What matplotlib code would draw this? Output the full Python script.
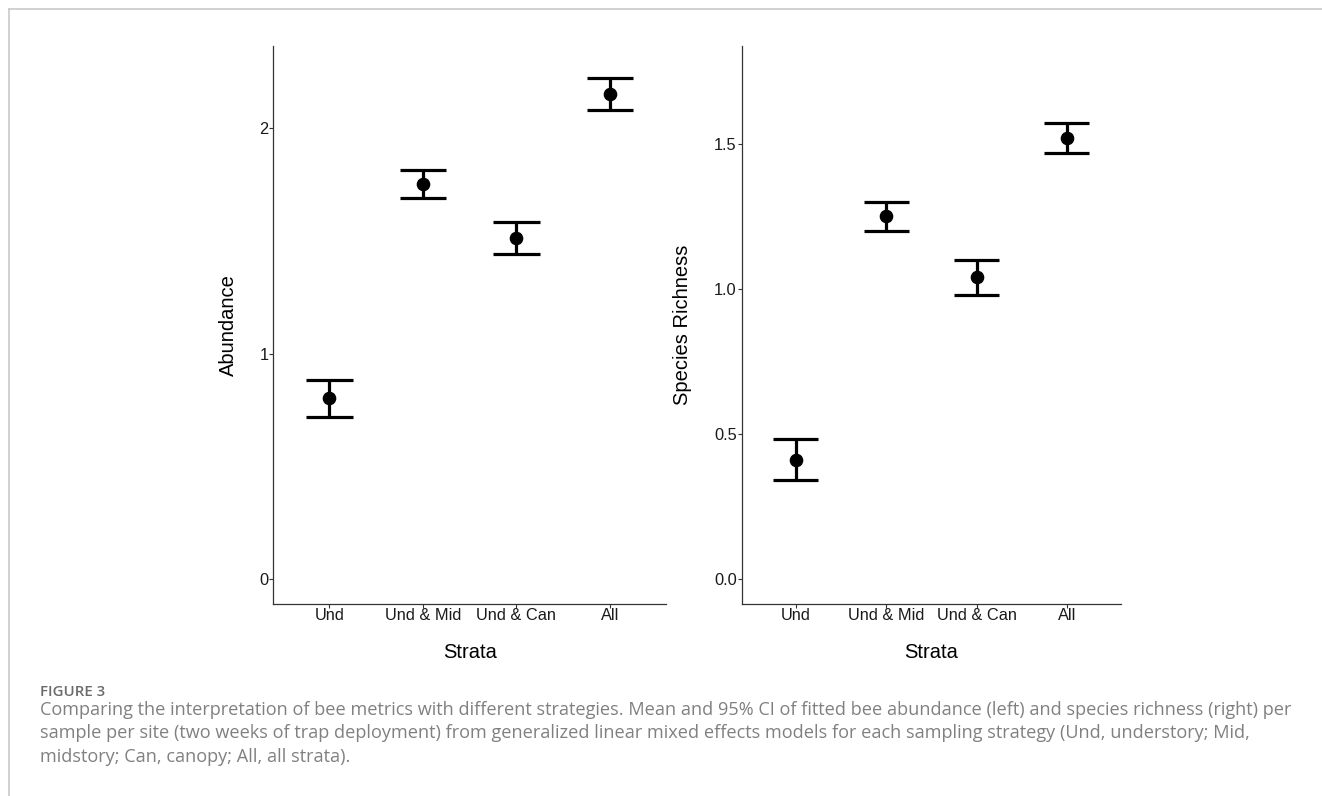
import matplotlib
matplotlib.use("Agg")
import matplotlib.pyplot as plt
from matplotlib.lines import Line2D

# ---------------- data ----------------
strata = ["Und", "Und & Mid", "Und & Can", "All"]

abund_mean = [0.803, 1.753, 1.512, 2.152]
abund_low = [0.721, 1.691, 1.441, 2.081]
abund_high = [0.882, 1.814, 1.583, 2.223]

rich_mean = [0.410, 1.252, 1.040, 1.520]
rich_low = [0.340, 1.200, 0.979, 1.469]
rich_high = [0.482, 1.300, 1.100, 1.572]

abund_ticks = [0, 1, 2]
abund_ticklabels = ["0", "1", "2"]
rich_ticks = [0.0, 0.5, 1.0, 1.5]
rich_ticklabels = ["0.0", "0.5", "1.0", "1.5"]

caption_title = "FIGURE 3"
caption_lines = [
    "Comparing the interpretation of bee metrics with different strategies. Mean and 95% CI of fitted bee abundance (left) and species richness (right) per",
    "sample per site (two weeks of trap deployment) from generalized linear mixed effects models for each sampling strategy (Und, understory; Mid,",
    "midstory; Can, canopy; All, all strata).",
]

# ---------------- figure ----------------
W, H = 1322, 796
fig = plt.figure(figsize=(W / 100, H / 100), dpi=100)
fig.patch.set_facecolor("white")

plt.rcParams["font.family"] = ["Liberation Sans", "DejaVu Sans"]


def px_rect(x0, x1, ytop, ybot):
    return [x0 / W, 1 - ybot / H, (x1 - x0) / W, (ybot - ytop) / H]


def panel(ax, means, lows, highs, ticks, ticklabels, ylim, ylabel, ylabel_x):
    x = list(range(len(strata)))
    lw = 2.3
    ax.vlines(x, lows, highs, color="black", lw=lw, zorder=2)
    ax.hlines(lows, [xi - 0.25 for xi in x], [xi + 0.25 for xi in x], color="black", lw=lw, zorder=2)
    ax.hlines(highs, [xi - 0.25 for xi in x], [xi + 0.25 for xi in x], color="black", lw=lw, zorder=2)
    ax.plot(x, means, "o", color="black", markersize=8.8, zorder=3)
    ax.set_xlim(-0.6, len(strata) - 0.4)
    ax.set_ylim(*ylim)
    ax.set_xticks(x)
    ax.set_xticklabels(strata)
    ax.set_yticks(ticks)
    ax.set_yticklabels(ticklabels)
    for s in ["top", "right"]:
        ax.spines[s].set_visible(False)
    for s in ["left", "bottom"]:
        ax.spines[s].set_color("#333333")
        ax.spines[s].set_linewidth(0.9)
    ax.tick_params(axis="both", length=2.6, width=0.8, color="#333333",
                   labelsize=11.8, labelcolor="#1a1a1a")
    ax.tick_params(axis="x", pad=0.5)
    ax.tick_params(axis="y", pad=1.0)
    ax.set_xlabel("Strata", fontsize=14.5, color="black")
    ax.xaxis.label.set_va("center")
    ax.xaxis.set_label_coords(0.5, -0.087)
    ax.set_ylabel(ylabel, fontsize=14.5, color="black")
    ax.yaxis.label.set_va("center")
    ax.yaxis.set_label_coords(ylabel_x, 0.5)


ax1 = fig.add_axes(px_rect(273.3, 666.0, 46, 604))
panel(ax1, abund_mean, abund_low, abund_high, abund_ticks, abund_ticklabels,
      (-0.1095, 2.365), "Abundance", (228 - 273.3) / (666.0 - 273.3))

ax2 = fig.add_axes(px_rect(741.7, 1121.0, 46, 604))
panel(ax2, rich_mean, rich_low, rich_high, rich_ticks, rich_ticklabels,
      (-0.086, 1.838), "Species Richness", (683 - 741.7) / (1121.0 - 741.7))

# ---------------- frame lines ----------------
frame_col = "#c9c9c9"
fig.add_artist(Line2D([9 / W, 1.0], [1 - 9 / H, 1 - 9 / H], transform=fig.transFigure,
                      color=frame_col, lw=1.2))
fig.add_artist(Line2D([9 / W, 9 / W], [1 - 9 / H, 0.0], transform=fig.transFigure,
                      color=frame_col, lw=1.2))

# ---------------- caption ----------------
fig.text(40 / W, 1 - 696 / H, caption_title, fontsize=10.8, color="#6b6b6b",
         family=["Open Sans", "DejaVu Sans"], fontweight="semibold", va="baseline", ha="left")
baselines = [715.0, 738.5, 762.0]
for line, b in zip(caption_lines, baselines):
    fig.text(40 / W, 1 - b / H, line, fontsize=13.1, color="#808080",
             family=["Open Sans", "DejaVu Sans"], va="baseline", ha="left")

fig.savefig("out.png", dpi=100, facecolor="white")
